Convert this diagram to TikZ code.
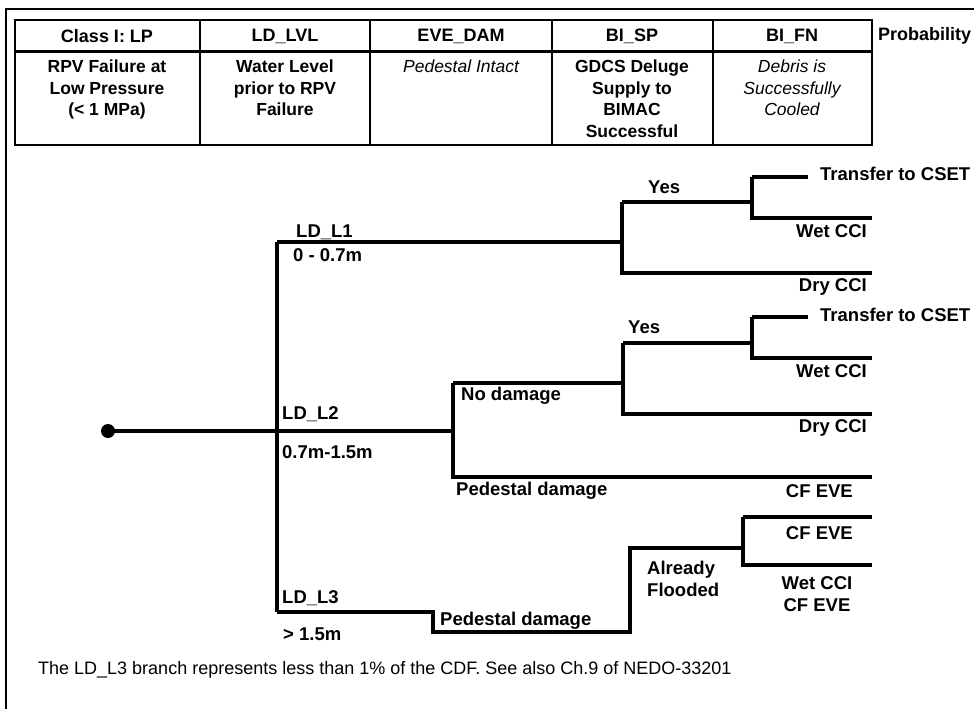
\documentclass[tikz,border=0pt]{standalone}
\usepackage{fontspec}
\setmainfont{Liberation Sans}
\usetikzlibrary{positioning}

\begin{document}
\begin{tikzpicture}[x=1pt,y=-1pt]
    \tikzset{
      headnode/.style={font=\bfseries\fontsize{18}{20}\selectfont,inner sep=0pt},
      descnode/.style={font=\bfseries\fontsize{17.5}{21.5}\selectfont,align=center,anchor=north,inner sep=0pt},
      descitnode/.style={descnode,font=\itshape\fontsize{17.5}{21.5}\selectfont},
      labelnode/.style={font=\bfseries\fontsize{18.5}{22}\selectfont,inner sep=0pt},
      dotnode/.style={circle,fill=black,minimum size=14pt,inner sep=0pt},
      tableline/.style={line width=1.5pt},
      branch/.style={line width=3.5pt,line join=miter}
    }
    \useasboundingbox (0,0) rectangle (974,709);
    % frame and table
    \draw[tableline] (6,716) -- (6,9) -- (980,9);
    \draw[tableline] (15,20) rectangle (872,145);
    \draw[line width=3pt] (15,52) -- (872,52);
    \foreach \x in {200,370,552,713}
      \draw[tableline] (\x,20) -- (\x,145);

    \node[headnode] (hclass) at (107,36) {Class I: LP};
    \node[headnode] (hlvl) at (285,36) {LD\_LVL};
    \node[headnode] (hdam) at (461,36) {EVE\_DAM};
    \node[headnode] (hsp) at (632,36) {BI\_SP};
    \node[headnode] (hfn) at (792,36) {BI\_FN};
    \node[headnode,anchor=west] (hprob) at (878,36) {Probability};

    \node[descnode] (dclass) at (107,60) {RPV Failure at\\Low Pressure\\(< 1 MPa)};
    \node[descnode] (dlvl) at (285,60) {Water Level\\prior to RPV\\Failure};
    \node[descitnode] (ddam) at (461,60) {Pedestal Intact};
    \node[descnode] (dsp) at (632,60) {GDCS Deluge\\Supply to\\BIMAC\\Successful};
    \node[descitnode] (dfn) at (792,60) {Debris is\\Successfully\\Cooled};

    % tree points
    \node[dotnode] (start) at (108,431) {};
    \coordinate (lvl) at (277,431);
    \coordinate (l1) at (277,242);
    \coordinate (l3) at (277,612);
    \coordinate (a1) at (622,242);
    \coordinate (a1yes) at (622,202);
    \coordinate (a1no) at (622,273);
    \coordinate (b1) at (752,202);
    \coordinate (b1yes) at (752,177);
    \coordinate (b1no) at (752,218);
    \coordinate (cset1) at (808,177);
    \coordinate (wet1) at (872,218);
    \coordinate (dry1) at (872,273);
    \coordinate (dam2) at (453,431);
    \coordinate (dam2no) at (453,383);
    \coordinate (dam2yes) at (453,477);
    \coordinate (a2yes) at (623,343);
    \coordinate (a2no) at (623,414);
    \coordinate (b2yes) at (752,317);
    \coordinate (b2no) at (752,358);
    \coordinate (cset2) at (808,317);
    \coordinate (wet2) at (872,358);
    \coordinate (dry2) at (872,414);
    \coordinate (cfeve2) at (872,477);
    \coordinate (dam3) at (433,612);
    \coordinate (dam3yes) at (433,632);
    \coordinate (a3) at (630,632);
    \coordinate (a3yes) at (630,548);
    \coordinate (b3yes) at (743,517);
    \coordinate (b3no) at (743,565);
    \coordinate (cfeve3) at (872,517);
    \coordinate (wet3) at (872,565);

    % branches
    \draw[branch] (start.center) -- (dam2);
    \draw[branch] (l1) -- (l3);
    \draw[branch] (l1) -- (a1);
    \draw[branch] (a1yes) -- (a1no) -- (dry1);
    \draw[branch] (a1yes) -- (b1);
    \draw[branch] (b1yes) -- (b1no) -- (wet1);
    \draw[branch] (b1yes) -- (cset1);
    \draw[branch] (dam2no) -- (dam2yes) -- (cfeve2);
    \draw[branch] (dam2no) -| (a2yes);
    \draw[branch] (a2yes) -- (a2no) -- (dry2);
    \draw[branch] (a2yes) -| (b2yes);
    \draw[branch] (b2yes) -- (b2no) -- (wet2);
    \draw[branch] (b2yes) -- (cset2);
    \draw[branch] (l3) -- (dam3) -- (dam3yes) -- (a3) -- (a3yes) -| (b3yes);
    \draw[branch] (b3yes) -- (b3no) -- (wet3);
    \draw[branch] (b3yes) -- (cfeve3);

    % labels
    \node[labelnode,anchor=west] (ll1) at (296,232) {LD\_L1};
    \node[labelnode,anchor=west] (rl1) at (293,255) {0 - 0.7m};
    \node[labelnode,anchor=west] (yes1) at (648,187) {Yes};
    \node[labelnode,anchor=west] (tcset1) at (820,174) {Transfer to CSET};
    \node[labelnode,anchor=east] (twet1) at (867,231) {Wet CCI};
    \node[labelnode,anchor=east] (tdry1) at (867,287) {Dry CCI};
    \node[labelnode,anchor=west] (yes2) at (628,327) {Yes};
    \node[labelnode,anchor=west] (tcset2) at (820,315) {Transfer to CSET};
    \node[labelnode,anchor=east] (twet2) at (867,371) {Wet CCI};
    \node[labelnode,anchor=east] (tdry2) at (867,428) {Dry CCI};
    \node[labelnode,anchor=west] (nodmg) at (461,396) {No damage};
    \node[labelnode,anchor=west] (peddmg2) at (456,491) {Pedestal damage};
    \node[labelnode,anchor=east] (tcf2) at (853,491) {CF EVE};
    \node[labelnode,anchor=west] (ll2) at (282,414) {LD\_L2};
    \node[labelnode,anchor=west] (rl2) at (282,452) {0.7m-1.5m};
    \node[labelnode,anchor=east] (tcf3) at (853,533) {CF EVE};
    \node[labelnode,align=center] (twet3) at (817,594) {Wet CCI\\CF EVE};
    \node[labelnode,align=left,anchor=west] (flood) at (647,579) {Already\\Flooded};
    \node[labelnode,anchor=west] (ll3) at (282,598) {LD\_L3};
    \node[labelnode,anchor=west] (rl3) at (283,634) {> 1.5m};
    \node[labelnode,anchor=west] (peddmg3) at (440,621) {Pedestal damage};

    \node[font=\fontsize{18}{20}\selectfont,anchor=west,inner sep=0pt] (note) at (38,670)
      {The LD\_L3 branch represents less than 1\% of the CDF. See also Ch.9 of NEDO-33201};
\end{tikzpicture}
\end{document}
